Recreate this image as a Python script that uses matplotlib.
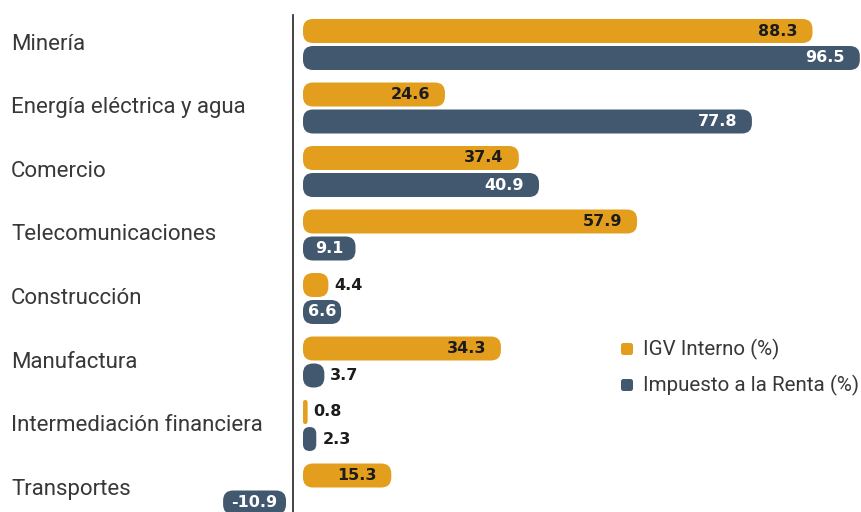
import matplotlib.pyplot as plt
from matplotlib.patches import FancyBboxPatch

categorias = ["Minería", "Energía eléctrica y agua", "Comercio", "Telecomunicaciones",
              "Construcción", "Manufactura", "Intermediación financiera", "Transportes"]
igv = [88.3, 24.6, 37.4, 57.9, 4.4, 34.3, 0.8, 15.3]
renta = [96.5, 77.8, 40.9, 9.1, 6.6, 3.7, 2.3, -10.9]
series_labels = ["IGV Interno (%)", "Impuesto a la Renta (%)"]

c_igv = "#E29E1C"
c_renta = "#42586F"
txt_dark = "#1c1c1c"

W, H = 861, 512
px_per_x = 5.77      # pixels per percentage point
px_per_y = 63.5      # pixels per category
zero_px = 303
top_px = 44.5

fig = plt.figure(figsize=(W / 100, H / 100), dpi=100)
ax = fig.add_axes([0, 0, 1, 1])
ax.set_xlim(-zero_px / px_per_x, (W - zero_px) / px_per_x)
ax.set_ylim((H - top_px) / px_per_y, -top_px / px_per_y)
ax.axis("off")

bar_h = 24 / px_per_y
off = 13.5 / px_per_y
aspect = px_per_x / px_per_y
axis_x = -10 / px_per_x
neg_start = -17 / px_per_x

ax.plot([axis_x, axis_x], [-0.47, 10], color="#222222", lw=1.2, clip_on=True)

renderer = fig.canvas.get_renderer()


def rounded_bar(x0, width, yc, color):
    w_px = abs(width) * px_per_x
    r_px = min(10, w_px / 2, 12)
    left = x0 if width >= 0 else x0 + width
    p = FancyBboxPatch((left, yc - bar_h / 2), abs(width), bar_h,
                       boxstyle=f"round,pad=0,rounding_size={r_px / px_per_x}",
                       mutation_aspect=aspect, fc=color, ec="none")
    ax.add_patch(p)


def bar_label(x0, val, yc, inside_color):
    s = f"{val:.1f}"
    t = ax.text(0, yc, s, fontsize=11.5, fontweight="bold", family="DejaVu Sans",
                va="center", ha="left", color=txt_dark)
    tw = t.get_window_extent(renderer).width / px_per_x
    width = abs(val)
    sign = 1 if val >= 0 else -1
    end = x0 + val
    pad = 15 / px_per_x
    if width > tw + 2 * pad:
        t.set_x(end - sign * pad)
        t.set_ha("right" if sign > 0 else "left")
        t.set_color(inside_color)
    elif width > tw + 6 / px_per_x:
        t.set_x(x0 + val / 2)
        t.set_ha("center")
        t.set_color(inside_color)
    else:
        t.set_x(end + sign * 6 / px_per_x)
        t.set_ha("left" if sign > 0 else "right")


for i, cat in enumerate(categorias):
    ax.text(11 / px_per_x + ax.get_xlim()[0], i, cat, fontsize=16, family="Roboto",
            color="#383838", va="center", ha="left")
    for val, yc, col, lc in [(igv[i], i - off, c_igv, txt_dark),
                             (renta[i], i + off, c_renta, "white")]:
        x0 = 0 if val >= 0 else neg_start
        rounded_bar(x0, val, yc, col)
        bar_label(x0, val, yc, lc)

# legend
for k, (lab, col) in enumerate(zip(series_labels, [c_igv, c_renta])):
    yc = (349 + 36 * k - top_px) / px_per_y
    xs = (621 - zero_px) / px_per_x
    sq = FancyBboxPatch((xs, yc - 6 / px_per_y), 12 / px_per_x, 12 / px_per_y,
                        boxstyle=f"round,pad=0,rounding_size={2.5 / px_per_x}",
                        mutation_aspect=aspect, fc=col, ec="none")
    ax.add_patch(sq)
    ax.text((643 - zero_px) / px_per_x, yc, lab, fontsize=14.8, family="Roboto",
            color="#383838", va="center", ha="left")

fig.savefig("out.png", dpi=100)
